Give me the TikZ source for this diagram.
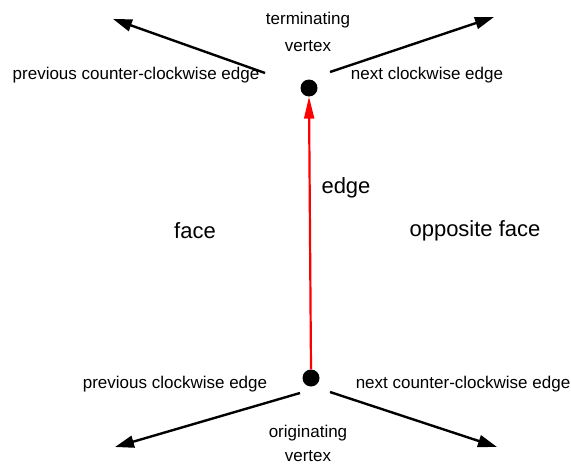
\documentclass[tikz,border=0pt]{standalone}
\usepackage{fontspec}
\setmainfont{Liberation Sans}
\usetikzlibrary{arrows.meta}
\begin{document}
\begin{tikzpicture}[x=1pt,y=-1pt,
  smalllabel/.style={inner sep=0pt,font=\fontsize{17}{20}\selectfont},
  biglabel/.style={inner sep=0pt,font=\fontsize{22}{26}\selectfont},
  vertexdot/.style={circle,fill=black,inner sep=0pt,minimum size=17pt},
  halfedge/.style={line width=2.4pt,-{Triangle[length=19pt,width=12pt]}},
  mainedge/.style={red,line width=2.2pt,-{Triangle[length=22pt,width=10pt]}}]
  \useasboundingbox (0,0) rectangle (571,466);
  % vertices
  \node[vertexdot] (tv) at (309,88) {};
  \node[vertexdot] (ov) at (311,378) {};
  % free ends of the neighbouring edges
  \coordinate (tl) at (113,19);
  \coordinate (tr) at (494,17);
  \coordinate (bl) at (115,447);
  \coordinate (br) at (497,447);
  \coordinate (tls) at (265,73);
  \coordinate (trs) at (330,72);
  \coordinate (bls) at (300,393);
  \coordinate (brs) at (330,392);
  % edges
  \draw[mainedge] (ov.north) -- (tv.south);
  \draw[halfedge] (tls) -- (tl);
  \draw[halfedge] (trs) -- (tr);
  \draw[halfedge] (bls) -- (bl);
  \draw[halfedge] (brs) -- (br);
  % labels
  \node[smalllabel] (tvl1) at (308,20) {terminating};
  \node[smalllabel] (tvl2) at (308,46) {vertex};
  \node[smalllabel] (pcc) at (136,75) {previous counter-clockwise edge};
  \node[smalllabel] (ncw) at (427,75) {next clockwise edge};
  \node[biglabel] (edgel) at (346,188) {edge};
  \node[biglabel] (face) at (195,231) {face};
  \node[biglabel] (oface) at (475,231) {opposite face};
  \node[smalllabel] (pcw) at (175,384) {previous clockwise edge};
  \node[smalllabel] (ncc) at (463,384) {next counter-clockwise edge};
  \node[smalllabel] (ovl1) at (308,433) {originating};
  \node[smalllabel] (ovl2) at (308,456) {vertex};
\end{tikzpicture}
\end{document}
